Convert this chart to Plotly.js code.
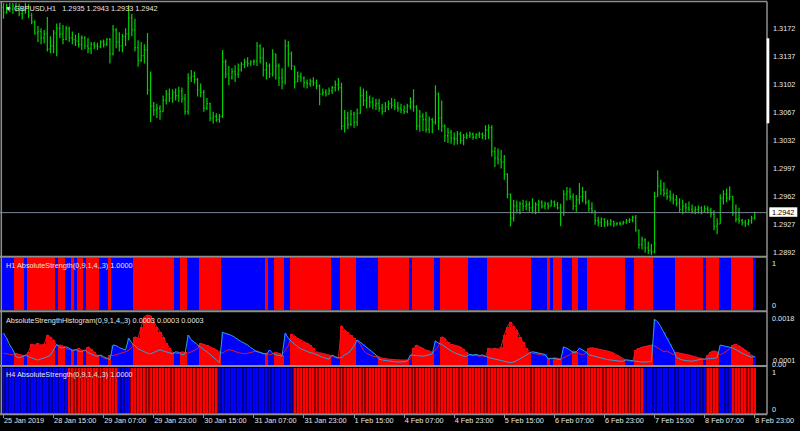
<!DOCTYPE html>
<html><head><meta charset="utf-8">
<script src="https://cdn.plot.ly/plotly-3.0.1.min.js"></script>
<style>html,body{margin:0;padding:0;background:#000;overflow:hidden}#chart{width:800px;height:431px}</style>
</head><body><div id="chart"></div>
<script>
// ---------------- data ----------------
const symbolTitle = "GBPUSD,H1";
const lastOHLC = ["1.2935", "1.2943", "1.2933", "1.2942"];
const lastPrice = 1.2942;
const firstOpen = 1.3198;

const high = [
1.3205,1.3203,1.3205,1.3204,1.3206,1.3203,1.3198,1.3204,1.3202,1.3191,
1.3182,1.3175,1.3172,1.3170,1.3186,1.3162,1.3170,1.3178,1.3179,1.3176,
1.3175,1.3174,1.3168,1.3164,1.3166,1.3163,1.3162,1.3160,1.3155,1.3155,
1.3154,1.3157,1.3158,1.3160,1.3160,1.3176,1.3172,1.3167,1.3165,1.3172,
1.3201,1.3190,1.3184,1.3157,1.3155,1.3152,1.3166,1.3118,1.3080,1.3078,
1.3076,1.3088,1.3095,1.3097,1.3096,1.3097,1.3099,1.3098,1.3090,1.3116,
1.3120,1.3118,1.3110,1.3103,1.3095,1.3085,1.3079,1.3068,1.3066,1.3065,
1.3145,1.3133,1.3125,1.3122,1.3126,1.3128,1.3130,1.3134,1.3136,1.3132,
1.3133,1.3155,1.3152,1.3148,1.3130,1.3128,1.3146,1.3140,1.3128,1.3122,
1.3158,1.3156,1.3143,1.3125,1.3118,1.3117,1.3112,1.3108,1.3109,1.3111,
1.3108,1.3102,1.3097,1.3096,1.3098,1.3100,1.3107,1.3110,1.3104,1.3070,
1.3068,1.3070,1.3068,1.3072,1.3099,1.3097,1.3094,1.3088,1.3086,1.3084,
1.3084,1.3078,1.3080,1.3082,1.3085,1.3084,1.3080,1.3078,1.3076,1.3078,
1.3086,1.3096,1.3076,1.3070,1.3066,1.3068,1.3062,1.3060,1.3101,1.3092,
1.3082,1.3052,1.3048,1.3045,1.3042,1.3044,1.3043,1.3040,1.3042,1.3043,
1.3042,1.3041,1.3043,1.3042,1.3051,1.3052,1.3051,1.3024,1.3022,1.3020,
1.3014,1.2991,1.2966,1.2958,1.2957,1.2956,1.2958,1.2957,1.2956,1.2960,
1.2955,1.2958,1.2957,1.2956,1.2955,1.2958,1.2957,1.2955,1.2953,1.2970,
1.2974,1.2973,1.2966,1.2964,1.2979,1.2974,1.2969,1.2958,1.2955,1.2945,
1.2937,1.2936,1.2935,1.2933,1.2934,1.2932,1.2930,1.2931,1.2932,1.2934,
1.2935,1.2938,1.2939,1.2921,1.2912,1.2910,1.2906,1.2903,1.2968,1.2995,
1.2983,1.2980,1.2972,1.2970,1.2966,1.2964,1.2960,1.2958,1.2954,1.2956,
1.2952,1.2950,1.2951,1.2950,1.2951,1.2950,1.2948,1.2945,1.2935,1.2965,
1.2970,1.2972,1.2975,1.2963,1.2952,1.2948,1.2934,1.2933,1.2934,1.2938,
1.2943];
const low = [
1.3184,1.3190,1.3192,1.3190,1.3193,1.3187,1.3183,1.3190,1.3185,1.3177,
1.3164,1.3155,1.3152,1.3153,1.3143,1.3141,1.3141,1.3137,1.3160,1.3152,
1.3157,1.3155,1.3152,1.3150,1.3148,1.3145,1.3146,1.3141,1.3140,1.3146,
1.3145,1.3147,1.3148,1.3150,1.3128,1.3138,1.3147,1.3143,1.3142,1.3150,
1.3157,1.3162,1.3143,1.3124,1.3130,1.3128,1.3089,1.3055,1.3063,1.3060,
1.3058,1.3068,1.3077,1.3080,1.3079,1.3082,1.3080,1.3079,1.3064,1.3064,
1.3105,1.3103,1.3087,1.3086,1.3068,1.3070,1.3056,1.3053,1.3055,1.3054,
1.3060,1.3110,1.3101,1.3108,1.3105,1.3110,1.3118,1.3122,1.3124,1.3125,
1.3126,1.3125,1.3128,1.3112,1.3108,1.3110,1.3112,1.3108,1.3100,1.3096,
1.3102,1.3124,1.3120,1.3097,1.3105,1.3105,1.3098,1.3097,1.3099,1.3100,
1.3096,1.3076,1.3088,1.3087,1.3089,1.3090,1.3093,1.3094,1.3045,1.3042,
1.3046,1.3050,1.3048,1.3050,1.3065,1.3075,1.3072,1.3073,1.3071,1.3070,
1.3068,1.3064,1.3068,1.3070,1.3072,1.3070,1.3068,1.3066,1.3065,1.3066,
1.3071,1.3068,1.3045,1.3043,1.3044,1.3042,1.3041,1.3041,1.3052,1.3045,
1.3043,1.3030,1.3029,1.3028,1.3026,1.3027,1.3028,1.3026,1.3034,1.3035,
1.3033,1.3034,1.3035,1.3034,1.3033,1.3034,1.3012,1.2999,1.3002,1.2997,
1.2983,1.2960,1.2925,1.2931,1.2941,1.2940,1.2944,1.2945,1.2943,1.2941,
1.2940,1.2942,1.2947,1.2946,1.2946,1.2950,1.2949,1.2946,1.2925,1.2938,
1.2957,1.2958,1.2945,1.2943,1.2952,1.2955,1.2952,1.2943,1.2941,1.2927,
1.2925,1.2924,1.2924,1.2925,1.2926,1.2924,1.2926,1.2926,1.2927,1.2928,
1.2929,1.2930,1.2918,1.2897,1.2896,1.2892,1.2890,1.2889,1.2891,1.2962,
1.2964,1.2962,1.2958,1.2956,1.2952,1.2950,1.2942,1.2940,1.2942,1.2943,
1.2941,1.2940,1.2941,1.2940,1.2942,1.2941,1.2936,1.2920,1.2915,1.2928,
1.2952,1.2955,1.2957,1.2938,1.2930,1.2928,1.2926,1.2924,1.2926,1.2928,
1.2933];
const close = [
1.3192,1.3198,1.3196,1.3200,1.3197,1.3190,1.3194,1.3198,1.3188,1.3180,
1.3166,1.3168,1.3160,1.3165,1.3146,1.3150,1.3166,1.3172,1.3165,1.3158,
1.3172,1.3160,1.3158,1.3156,1.3152,1.3160,1.3150,1.3147,1.3152,1.3150,
1.3149,1.3155,1.3152,1.3158,1.3140,1.3170,1.3155,1.3150,1.3162,1.3165,
1.3185,1.3170,1.3148,1.3132,1.3138,1.3145,1.3095,1.3075,1.3070,1.3072,
1.3068,1.3082,1.3090,1.3085,1.3092,1.3088,1.3094,1.3084,1.3068,1.3110,
1.3112,1.3108,1.3095,1.3092,1.3072,1.3078,1.3060,1.3062,1.3058,1.3062,
1.3130,1.3115,1.3110,1.3118,1.3115,1.3120,1.3127,1.3130,1.3128,1.3130,
1.3131,1.3150,1.3135,1.3120,1.3125,1.3115,1.3140,1.3125,1.3110,1.3105,
1.3150,1.3140,1.3125,1.3105,1.3112,1.3110,1.3104,1.3103,1.3106,1.3104,
1.3100,1.3090,1.3092,1.3090,1.3094,1.3098,1.3102,1.3098,1.3050,1.3060,
1.3052,1.3065,1.3055,1.3066,1.3088,1.3082,1.3085,1.3080,1.3076,1.3078,
1.3072,1.3068,1.3074,1.3078,1.3076,1.3074,1.3072,1.3070,1.3068,1.3075,
1.3080,1.3074,1.3050,1.3062,1.3058,1.3046,1.3058,1.3055,1.3090,1.3060,
1.3050,1.3038,1.3042,1.3035,1.3034,1.3040,1.3032,1.3036,1.3038,1.3040,
1.3036,1.3039,1.3040,1.3038,1.3045,1.3048,1.3018,1.3010,1.3008,1.3005,
1.2990,1.2965,1.2935,1.2950,1.2945,1.2953,1.2950,1.2952,1.2948,1.2944,
1.2952,1.2955,1.2950,1.2953,1.2950,1.2955,1.2952,1.2948,1.2942,1.2965,
1.2968,1.2962,1.2950,1.2958,1.2962,1.2968,1.2955,1.2947,1.2944,1.2932,
1.2930,1.2934,1.2930,1.2928,1.2931,1.2928,1.2929,1.2928,1.2930,1.2932,
1.2933,1.2936,1.2920,1.2902,1.2908,1.2898,1.2895,1.2893,1.2962,1.2975,
1.2970,1.2966,1.2962,1.2960,1.2958,1.2954,1.2946,1.2950,1.2948,1.2946,
1.2944,1.2946,1.2948,1.2944,1.2947,1.2945,1.2940,1.2925,1.2928,1.2960,
1.2965,1.2960,1.2962,1.2942,1.2934,1.2932,1.2930,1.2928,1.2932,1.2935,
1.2942];

// run lengths of the H1 / H4 AbsoluteStrength state, alternating, first run = bullish (blue)
const h1Runs = [4,3,1,9,1,2,2,1,1,2,1,4,3,1,7,13,2,2,4,7,14,1,2,3,2,13,3,5,7,10,1,7,2,9,6,14,5,1,1,3,3,2,3,12,3,6,7,9,1,4,4,7,1];
const h4Runs = [21,16,4,28,24,112,20,4,4,8];

// histogram lines, in units of 0.00001
const histUnit = 1e-5;
const bullLine = [
118,101,78,61, 38,35,38, 44, 38,33,30,27,30,33,38,44,61, 80, 70,68, 72,67, 58, 63, 57,55, 61, 52,48,42,40, 44,38,33, 28,
78,76,69,65,61,101,84, 75,65,60,55,50,48,52,58,62,58,55,52,48, 55,53, 45,48, 112,95,87,78, 70,62,55,45,35,25,18,
121,118,114,110,103,95,89,84,78,69,61,55,53,50, 46, 61,50, 45,42,40, 118,101, 90,80,72,65,60,55,52,50,45,40,36,33,30,
44,38,35, 35,45,50,60,75, 95,87,80,72,64,53,44, 30,27,25,23,22,21,20,20,21,23, 44, 43,42,40,40,42,45,48, 92,84,
80,72,65,58,52,48,43,40,40, 46,44,46,42,44,40, 35,33,30,28,25,22,20,18,20,25,32,38,45,50, 55,53,50,49,46, 31, 33, 32,31,28,
72,67,61, 52,54, 67,61,55, 45,42,40,36,33,30,28,27,25,24,23,23, 28,26,24, 22,21,20,20,21,22, 165,157,140,121,101,80,61,
35,30,27,25,24,23,25,28,30, 30, 30,32,33,35, 78,76,72,71, 68,62,55,50,45,40,36, 40];
const bearLine = [
50,47,46,44, 50,46,44, 40, 55,80,78,84,78,80,112,106,95, 75, 78,76, 65,63, 61, 60, 67,61, 58, 72,64,55,44, 40,35,30, 44,
42,45,48,50,55,60,70, 106,101,140,174,180,178,157,140,123,106,84,67,53, 50,49, 55,53, 50,55,60,65, 84,80,78,72,67,61,55,
50,58,62,60,55,52,50,48,50,52,55,58,52,48, 50, 45,47, 53,50,44, 60,75, 114,110,101,95,89,84,78,67,55,52,50,46,44,
40,35,32, 144,129,121,112,101, 90,80,60,50,45,40,38, 38,33,33,30,30,28,28,27,27,27, 30, 67,78,72,67,61,58,53, 60,75,
106,101,87,80,78,76,72,64,55, 44,42,43,40,41,38, 67,64,67,64,72,112,140,157,144,129,106,87,69,55, 50,48,45,44,43, 33, 31, 35,33,30,
35,40,45, 58,55, 48,45,50, 67,69,67,64,62,61,58,55,50,44,37,30, 26,24,22, 61,67,71,73,76,78, 75,68,60,55,58,50,45,
53,50,47,46,44,42,38,35,33, 28, 44,55,58,55, 45,50,58,65, 78,80,76,69,61,53,44, 35];

const tickBars = [0,16,32,48,64,80,96,112,128,144,160,176,192,208,224,240];
const tickLabels = ["25 Jan 2019","28 Jan 15:00","29 Jan 07:00","29 Jan 23:00","30 Jan 15:00","31 Jan 07:00",
  "31 Jan 23:00","1 Feb 15:00","4 Feb 07:00","4 Feb 23:00","5 Feb 15:00","6 Feb 07:00","6 Feb 23:00",
  "7 Feb 15:00","8 Feb 07:00","8 Feb 23:00"];
const priceTicks = [1.3172,1.3137,1.3102,1.3067,1.3032,1.2997,1.2962,1.2927,1.2892];

// ---------------- build ----------------
const n = close.length;
const idx = close.map((_, i) => i);
const open = close.map((_, i) => i === 0 ? firstOpen : close[i - 1]);
function expand(runs) { const o = []; runs.forEach((r, k) => { for (let j = 0; j < r; j++) o.push(k % 2 === 0 ? 1 : 0); }); return o; }
const h1 = expand(h1Runs), h4 = expand(h4Runs);
const BLUE = '#0000ff', RED = '#ff0000';
const h1Col = h1.map(d => d ? BLUE : RED);
const h4Col = h4.map(d => d ? BLUE : RED);
const h4Dark = h4.map(d => d ? '#00008c' : '#8c0000');
const hist = idx.map(i => (h1[i] ? bullLine[i] : bearLine[i]) * histUnit);
const bullV = bullLine.map(v => v * histUnit), bearV = bearLine.map(v => v * histUnit);
const ones = idx.map(() => 1);

const W = 767, H = 431;
const X = v => v / W, Y = v => 1 - v / H;
const TXT = '#e6e6e6', GRAY = '#8f8f8f';

const traces = [
  {type: 'ohlc', x: idx, open: open, high: high, low: low, close: close, xaxis: 'x', yaxis: 'y',
   increasing: {line: {color: '#00d000', width: 1.2}}, decreasing: {line: {color: '#00d000', width: 1.2}},
   tickwidth: 0.32, hoverinfo: 'skip'},
  {type: 'bar', x: idx, y: ones, xaxis: 'x', yaxis: 'y2', width: 1, marker: {color: h1Col, line: {width: 0}}, hoverinfo: 'skip'},
  {type: 'bar', x: idx, y: hist, xaxis: 'x', yaxis: 'y3', width: 1, marker: {color: h1Col, line: {width: 0}}, hoverinfo: 'skip'},
  {type: 'scatter', mode: 'lines', x: idx, y: bearV, xaxis: 'x', yaxis: 'y3', line: {color: '#d81c2c', width: 1}, hoverinfo: 'skip'},
  {type: 'scatter', mode: 'lines', x: idx, y: bullV, xaxis: 'x', yaxis: 'y3', line: {color: '#2aa0e0', width: 1}, hoverinfo: 'skip'},
  {type: 'bar', x: idx, y: ones, xaxis: 'x', yaxis: 'y4', width: 1, marker: {color: h4Dark, line: {width: 0}}, hoverinfo: 'skip'},
  {type: 'bar', x: idx, y: ones, xaxis: 'x', yaxis: 'y4', width: 0.6, marker: {color: h4Col, line: {width: 0}}, hoverinfo: 'skip'}
];

const xmin = -3.5 / 3.13, xmax = xmin + W / 3.13;
const topPx = 3, botPx = 255, scale = 8014, ref = 1.3172, refPx = 28.3;
const yTop = ref + (refPx - topPx) / scale, yBot = ref - (botPx - refPx) / scale;

const hLine = (y, w) => ({type: 'line', xref: 'paper', yref: 'paper', x0: 0, x1: 1, y0: Y(y), y1: Y(y), line: {color: GRAY, width: w}});
const vLine = (x, w) => ({type: 'line', xref: 'paper', yref: 'paper', x0: X(x), x1: X(x), y0: Y(1.5), y1: Y(414.5), line: {color: GRAY, width: w}});

const shapes = [
  {type: 'line', xref: 'paper', yref: 'y', x0: 0, x1: 1, y0: lastPrice, y1: lastPrice, line: {color: '#7a8696', width: 1}},
  hLine(1.5, 1.5), hLine(256.8, 2), hLine(311.3, 2), hLine(366, 2), hLine(414.2, 2),
  vLine(1.3, 1.5), vLine(767, 1.5),
  {type: 'rect', xref: 'paper', yref: 'paper', x0: X(766.7), x1: X(769.3), y0: Y(123.3), y1: Y(38.3), fillcolor: '#ffffff', line: {width: 0}},
  {type: 'rect', xref: 'paper', yref: 'paper', x0: X(769.3), x1: X(797.3), y0: Y(216.8), y1: Y(207.3), fillcolor: '#ffffff', line: {width: 0}}
];

const ann = (text, x, y, extra) => Object.assign({text: text, x: X(x), y: Y(y), xref: 'paper', yref: 'paper',
  xanchor: 'left', yanchor: 'middle', showarrow: false, font: {size: 7.3, color: TXT}, borderpad: 0, borderwidth: 0}, extra || {});
const annotations = [
  ann('▼', 4.5, 8, {font: {size: 6.5, color: TXT}}),
  ann(symbolTitle + '\u00a0\u00a0\u00a0' + lastOHLC.join(' '), 13.5, 8),
  ann('H1 AbsoluteStrength(0,9,1,4,,3) 1.0000', 5.5, 265),
  ann('AbsoluteStrengthHistogram(0,9,1,4,,3) 0.0003 0.0003 0.0003', 5.5, 320),
  ann('H4 AbsoluteStrength(0,9,1,4,,3) 1.0000', 5.5, 374),
  ann('1', 772.5, 263), ann('0', 772.5, 305),
  ann('0.0018', 772.5, 318.5), ann('0.00', 771.5, 364), ann('0.0001', 773, 360.5),
  ann('1', 772.5, 372), ann('0', 772.5, 409),
  ann(lastPrice.toFixed(4), 772.5, 212, {font: {size: 7.3, color: '#000000'}})
];

const hiddenY = (dom, range) => ({domain: dom, range: range, anchor: 'x', showgrid: false, zeroline: false, showline: false,
  showticklabels: false, ticks: '', fixedrange: true});

const layout = {
  width: 800, height: 431, margin: {l: 0, r: 33, t: 0, b: 0, pad: 0},
  paper_bgcolor: '#000000', plot_bgcolor: '#000000', showlegend: false, barmode: 'overlay', bargap: 0,
  font: {family: '"Liberation Sans", Arial, sans-serif', size: 7.3, color: TXT},
  xaxis: {domain: [0, 1], range: [xmin, xmax], anchor: 'y4', showgrid: false, zeroline: false, showline: false,
    tickmode: 'array', tickvals: tickBars, ticktext: tickLabels, ticks: 'outside', ticklen: 4, tickwidth: 1,
    tickcolor: GRAY, ticklabelposition: 'outside right', tickangle: 0, ticklabelstandoff: 0,
    tickfont: {size: 7.3, color: TXT}, rangeslider: {visible: false}, fixedrange: true},
  yaxis: {domain: [Y(botPx), Y(topPx)], range: [yBot, yTop], anchor: 'x', side: 'right', showgrid: false,
    zeroline: false, showline: false, tickmode: 'array', tickvals: priceTicks, ticktext: priceTicks.map(v => v.toFixed(4)),
    ticks: '', ticklabelstandoff: 5, tickfont: {size: 7.3, color: TXT}, fixedrange: true},
  yaxis2: hiddenY([Y(310), Y(258)], [0, 1]),
  yaxis3: hiddenY([Y(365), Y(313)], [0.0001, 0.001868]),
  yaxis4: hiddenY([Y(413), Y(368)], [0, 1]),
  shapes: shapes, annotations: annotations
};

Plotly.newPlot('chart', traces, layout, {staticPlot: true, displayModeBar: false});
</script>
</body></html>
